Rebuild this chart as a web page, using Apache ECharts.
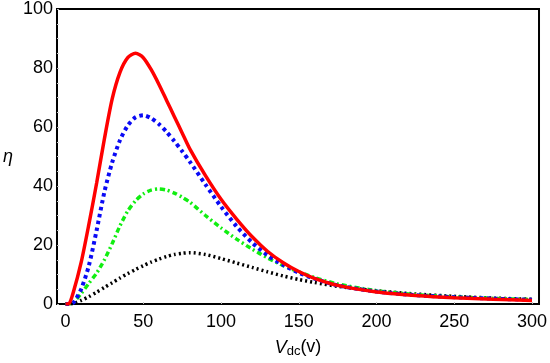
<!DOCTYPE html>
<html>
<head>
<meta charset="utf-8">
<script src="https://cdn.jsdelivr.net/npm/echarts@6/dist/echarts.min.js"></script>
<style>html,body{margin:0;padding:0;background:#fff}#c{width:550px;height:363px}</style>
</head>
<body>
<div id="c"></div>
<script>
const xs = [0, 2, 5, 10, 15, 20, 25, 30, 35, 40, 45, 50, 55, 60, 65, 70, 75, 80, 90, 100, 110, 120, 130, 140, 150, 160, 175, 200, 225, 250, 275, 300];
const red   = [0, 0, 4, 14, 27, 41, 56, 69.5, 78.5, 83.5, 85, 83.5, 79.5, 74.5, 69, 63.5, 58, 52.5, 43.5, 35.5, 28.8, 22.8, 17.8, 14, 11, 8.7, 6.3, 4.1, 2.9, 2.1, 1.6, 1.2];
const blue  = [0, 0, 0.4, 5, 13, 25, 38, 48, 55.5, 60.5, 63.3, 64, 63, 61, 58.3, 55.2, 51.8, 48.2, 40.5, 33, 26.3, 20.8, 16.5, 13.2, 10.6, 8.6, 6.3, 4.2, 3.0, 2.3, 1.8, 1.4];
const green = [0, 0, 0.5, 3.5, 7, 10.5, 15, 20.5, 26.5, 31.5, 35, 37.3, 38.6, 39, 38.6, 37.6, 36.2, 34.5, 30, 25.8, 22, 18.6, 15.6, 13, 10.9, 9, 6.8, 4.5, 3.2, 2.4, 1.9, 1.5];
const black = [0, 0, 0.2, 1.2, 2.5, 4, 5.6, 7.2, 8.8, 10.3, 11.7, 13, 14.2, 15.2, 16.1, 16.8, 17.2, 17.4, 16.8, 15.4, 13.9, 12.4, 10.9, 9.5, 8.3, 7.3, 6.0, 4.5, 3.4, 2.6, 2.0, 1.6];
const xTicks = [0, 50, 100, 150, 200, 250, 300];
const yTicks = [0, 20, 40, 60, 80, 100];

const pairs = arr => xs.map((x, i) => [x, arr[i]]);
const chart = echarts.init(document.getElementById('c'));
const font = 'Liberation Sans, Arial, sans-serif';
chart.setOption({
  animation: false,
  grid: { left: 55, right: 6, top: 8, bottom: 51, show: true, borderColor: '#000', borderWidth: 2, backgroundColor: 'transparent' },
  xAxis: {
    type: 'value', min: -5.5, max: 304.5,
    axisLine: { show: true, onZero: false, lineStyle: { color: '#000', width: 2 } },
    axisTick: { show: true, inside: true, length: 2, lineStyle: { color: '#bbb' }, customValues: xTicks },
    axisLabel: { color: '#000', fontSize: 18, fontFamily: font, margin: 9, customValues: xTicks },
    splitLine: { show: false },
    name: '{i|V}{s|dc}{n|(v)}', nameLocation: 'middle', nameGap: 33,
    nameTextStyle: { rich: {
      i: { fontSize: 18, fontStyle: 'italic', fontFamily: font, color: '#000' },
      s: { fontSize: 13, fontFamily: font, color: '#000', verticalAlign: 'bottom', padding: [8, 0, 0, 0] },
      n: { fontSize: 18, fontFamily: font, color: '#000' }
    } }
  },
  yAxis: {
    type: 'value', min: 0, max: 100, interval: 20,
    axisLine: { show: true, onZero: false, lineStyle: { color: '#000', width: 2 } },
    axisTick: { show: true, inside: true, length: 2, lineStyle: { color: '#bbb' } },
    minorTick: { show: true, splitNumber: 4, length: 2, lineStyle: { color: '#ccc' } },
    axisLabel: { color: '#000', fontSize: 18, fontFamily: font, margin: 4 },
    splitLine: { show: false },
    name: 'η', nameLocation: 'middle', nameRotate: 0, nameGap: 44,
    nameTextStyle: { fontSize: 18, fontStyle: 'italic', fontFamily: font, color: '#000' }
  },
  series: [
    { type: 'line', data: pairs(black), smooth: 0.25, showSymbol: false, lineStyle: { color: '#000', width: 3.5, type: [2, 3], cap: 'butt' } },
    { type: 'line', data: pairs(green), smooth: 0.25, showSymbol: false, lineStyle: { color: '#11ee11', width: 3.5, type: [5, 3, 2, 3], cap: 'butt' } },
    { type: 'line', data: pairs(blue), smooth: 0.25, showSymbol: false, lineStyle: { color: '#0a0af5', width: 4, type: [3.5, 3.5], cap: 'butt' } },
    { type: 'line', data: pairs(red), smooth: 0.25, showSymbol: false, lineStyle: { color: '#ff0000', width: 3.5 } }
  ]
});
</script>
</body>
</html>
